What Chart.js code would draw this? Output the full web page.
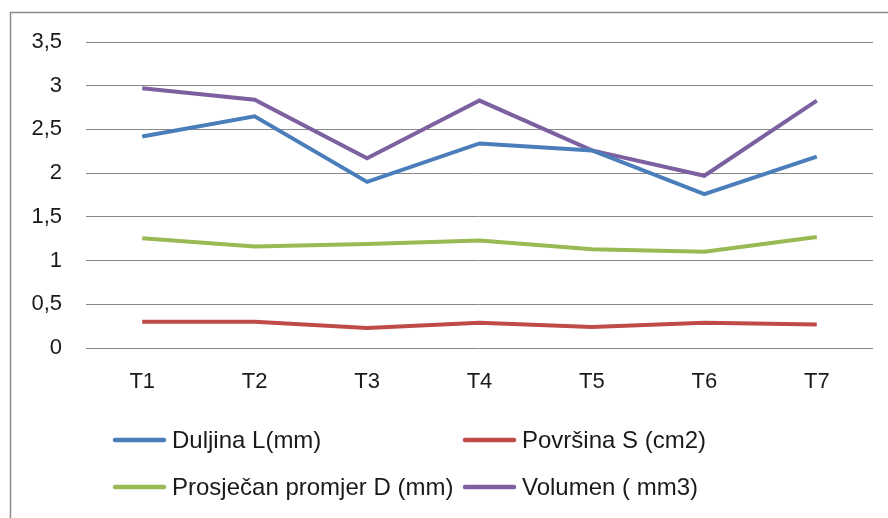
<!DOCTYPE html>
<html>
<head>
<meta charset="utf-8">
<script src="https://cdn.jsdelivr.net/npm/chart.js@4"></script>
<style>
html,body{margin:0;padding:0;background:#fff;}
#wrap{position:relative;width:888px;height:518px;}
</style>
</head>
<body>
<div id="wrap"><canvas id="c" width="888" height="518"></canvas></div>
<script>
const categories = ["T1","T2","T3","T4","T5","T6","T7"];
const seriesNames = ["Duljina L(mm)","Površina S (cm2)","Prosječan promjer D (mm)","Volumen ( mm3)"];
const duljina = [2.42, 2.65, 1.90, 2.34, 2.26, 1.76, 2.19];
const povrsina = [0.30, 0.30, 0.23, 0.29, 0.24, 0.29, 0.27];
const promjer = [1.255, 1.16, 1.19, 1.23, 1.13, 1.10, 1.27];
const volumen = [2.97, 2.84, 2.17, 2.83, 2.26, 1.97, 2.83];
const colors = ["#4A7EBB","#BE4B48","#98B954","#7D60A0"];
const FONT = "'Liberation Sans', Arial, sans-serif";

const frame = {
  id:'frame',
  beforeDraw(chart){
    const ctx = chart.ctx;
    ctx.save();
    ctx.fillStyle='#fff';
    ctx.fillRect(0,0,chart.width,chart.height);
    ctx.strokeStyle='#8a8a8a';
    ctx.lineWidth=1.5;
    ctx.strokeRect(10.5,12.5,900,600);
    ctx.restore();
  }
};

const legendPlugin = {
  id:'gridLegend',
  afterDraw(chart){
    const ctx = chart.ctx;
    const pos = [[113,440],[463,440],[113,487],[463,487]];
    ctx.save();
    ctx.font = "24px " + FONT;
    ctx.textBaseline = 'middle';
    ctx.textAlign = 'left';
    chart.data.datasets.forEach((ds,i)=>{
      const [x,y] = pos[i];
      ctx.strokeStyle = ds.borderColor;
      ctx.lineWidth = 4.5;
      ctx.lineCap = 'round';
      ctx.beginPath();
      ctx.moveTo(x+2,y);
      ctx.lineTo(x+51,y);
      ctx.stroke();
      ctx.fillStyle = '#1a1a1a';
      ctx.fillText(ds.label, x+59, y+1);
    });
    ctx.restore();
  }
};

const allValues = [duljina, povrsina, promjer, volumen];
new Chart(document.getElementById('c'), {
  type:'line',
  data:{
    labels: categories,
    datasets: seriesNames.map((n,i)=>({
      label:n,
      data: allValues[i],
      borderColor: colors[i],
      backgroundColor: colors[i],
      borderWidth: 4,
      pointRadius: 0,
      tension: 0,
      fill: false
    }))
  },
  options:{
    responsive:false,
    animation:false,
    devicePixelRatio:1,
    layout:{padding:{left:0,right:15,top:42,bottom:130}},
    plugins:{legend:{display:false},tooltip:{enabled:false}},
    scales:{
      x:{
        offset:true,
        grid:{display:false,drawTicks:false},
        border:{display:false},
        ticks:{font:{family:FONT,size:22},color:'#1a1a1a',padding:21,maxRotation:0},
        afterFit(s){ s.height = 40; }
      },
      y:{
        min:0,max:3.5,
        grid:{color:'#888888',lineWidth:1,drawTicks:false},
        border:{display:false},
        ticks:{stepSize:0.5,font:{family:FONT,size:22},color:'#1a1a1a',padding:24,
          callback:(v)=>String(v).replace('.',',')},
        afterFit(s){ s.width = 86; }
      }
    }
  },
  plugins:[frame, legendPlugin]
});
</script>
</body>
</html>
